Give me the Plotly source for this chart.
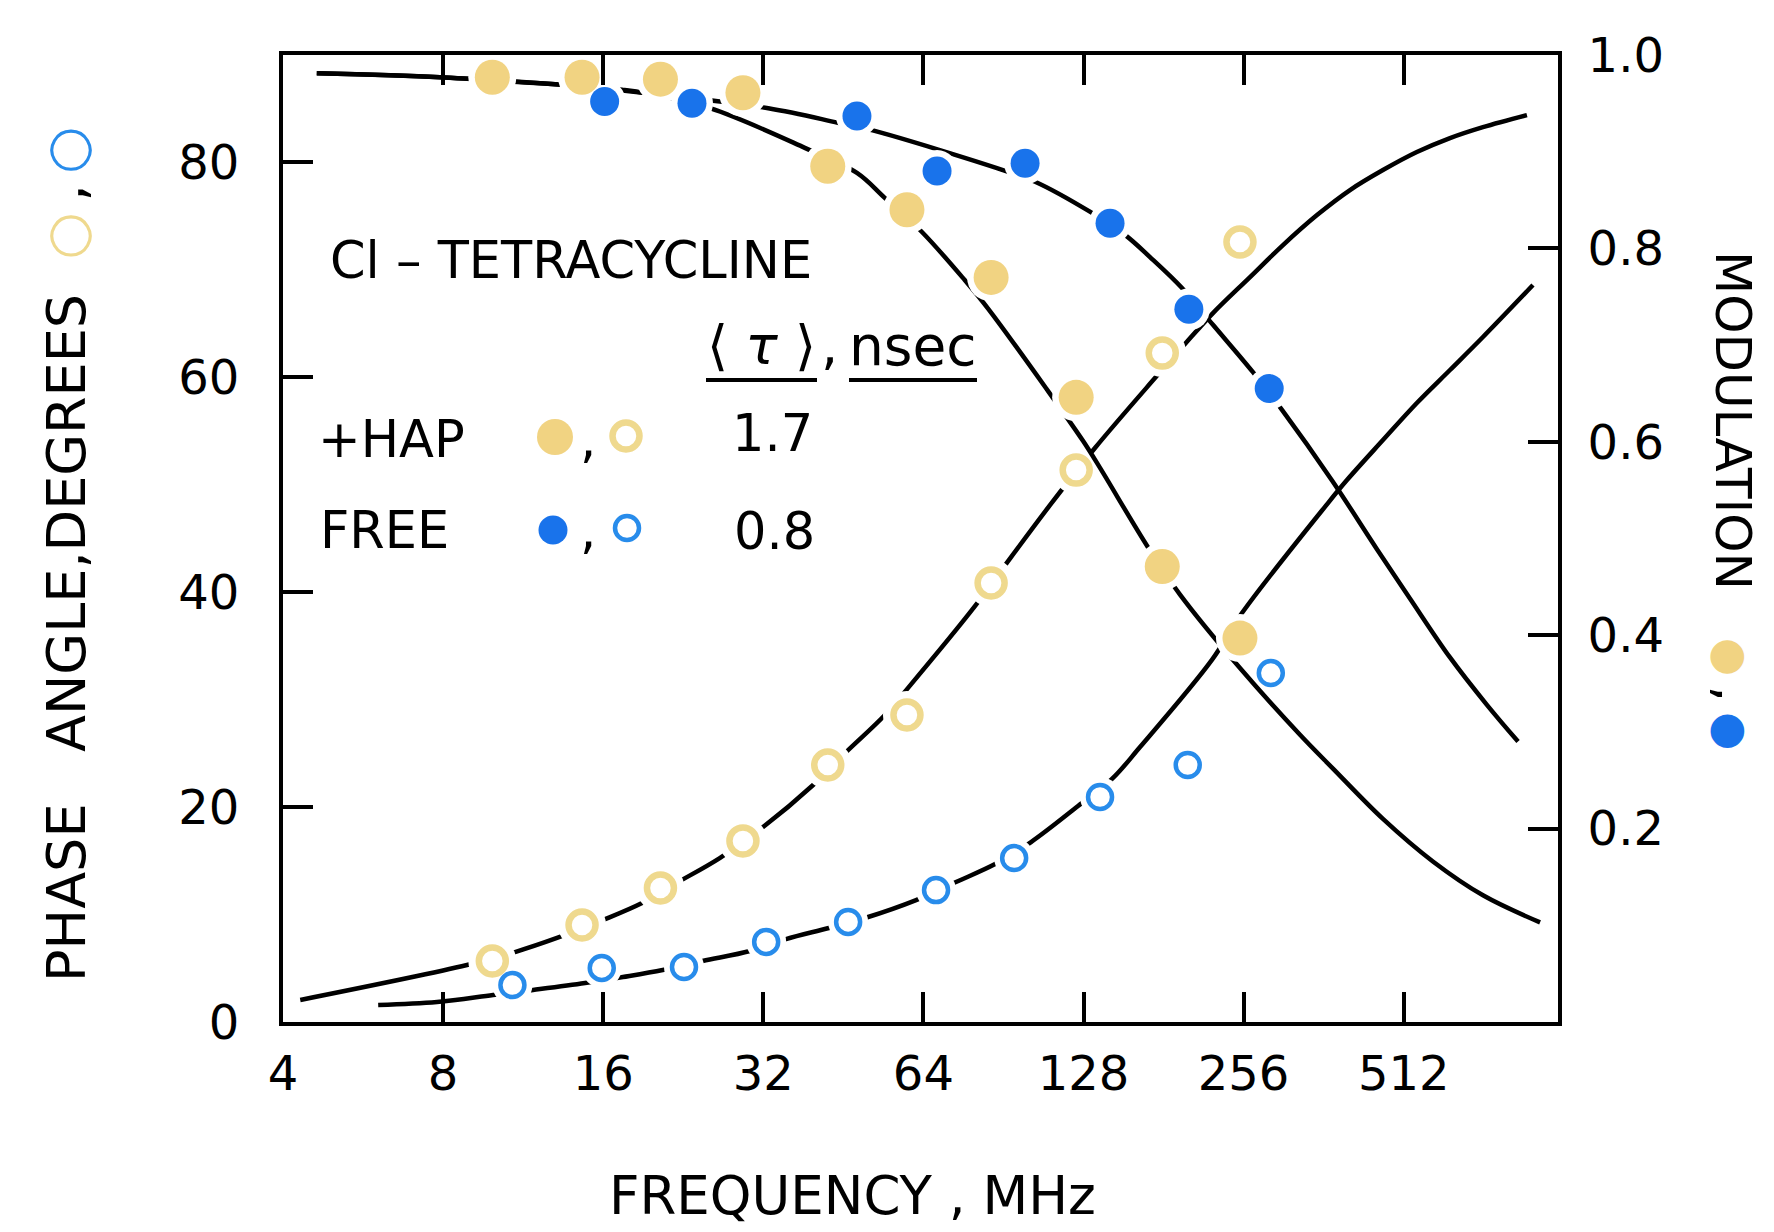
import math
import plotly.graph_objects as go

# ---------------- data ----------------
# + HAP  (<tau> = 1.7 nsec)
hap_freq = [9.9, 14.6, 20.5, 29.3, 42.3, 59.6, 85.8, 124, 180, 252]
hap_phase = [5.68, 9.03, 12.47, 16.85, 23.92, 28.57, 40.86, 51.37, 62.26, 72.59]
hap_mod = [0.977, 0.977, 0.975, 0.961, 0.885, 0.840, 0.770, 0.646, 0.471, 0.397]

# FREE  (<tau> = 0.8 nsec)
free_phase_freq = [10.8, 15.9, 22.7, 32.4, 46.2, 67.6, 94.8, 137.5, 201, 288]
free_phase = [3.44, 5.03, 5.12, 7.45, 9.31, 12.28, 15.26, 20.94, 23.92, 32.48]
free_mod_freq = [16.1, 23.5, 48.0, 67.9, 99.4, 143.6, 202, 286]
free_mod = [0.952, 0.950, 0.937, 0.880, 0.888, 0.826, 0.737, 0.655]

# drawn curves
hap_phase_curve_freq = [4.31, 8.87, 10.92, 13.1, 15.99, 18.93, 21.8, 26.5, 31.8, 39.7, 45.6, 54.0,
                        59.9, 80.0, 91.1, 110.7, 134.5, 174.4, 198.6, 224.2, 263.2, 303.6, 351.8,
                        405.8, 468, 542, 625.6, 721.6, 873]
hap_phase_curve = [2.05, 5.30, 6.51, 7.82, 9.49, 11.07, 12.84, 15.26, 18.05, 22.06, 25.03, 28.50,
                   31.10, 38.70, 42.50, 48.10, 53.42, 59.93, 63.10, 65.98, 69.33, 72.31, 75.10,
                   77.43, 79.29, 80.97, 82.27, 83.29, 84.41]

free_phase_curve_freq = [6.04, 7.79, 9.93, 11.81, 14.79, 17.43, 20.7, 24.6, 30.2, 35.3, 42.5, 49.7,
                         62.0, 73.7, 87.3, 102.0, 125.0, 144.8, 163.5, 223.2, 254.2, 368.9, 400.5,
                         468, 542, 625.6, 721.6, 896]
free_phase_curve = [1.58, 1.86, 2.51, 2.98, 3.63, 4.19, 4.84, 5.68, 6.61, 7.72, 8.75, 9.68,
                    11.35, 13.03, 14.70, 16.75, 20.10, 22.62, 25.59, 33.70, 38.06, 48.30, 50.44,
                    54.16, 57.61, 60.68, 63.75, 68.59]

hap_mod_curve_freq = [4.63, 7.89, 11.06, 13.56, 17.36, 19.01, 25.4, 38.3, 48.0, 54.2, 63.6, 76.6,
                      84.6, 109.3, 127.7, 137.5, 169.2, 194.4, 252, 326.8, 377, 468, 581, 721.6, 924]
hap_mod_curve = [0.981, 0.977, 0.972, 0.969, 0.964, 0.961, 0.945, 0.904, 0.878, 0.852, 0.817, 0.767,
                 0.738, 0.654, 0.601, 0.573, 0.491, 0.442, 0.366, 0.297, 0.262, 0.210, 0.166, 0.131, 0.103]

free_mod_curve_freq = [4.63, 7.89, 13.56, 19.01, 32.7, 44.2, 51.4, 90.3, 103.8, 131.6, 153.2, 170.7,
                       196.1, 224.2, 266.6, 302.3, 375.4, 456, 526, 625.6, 734, 840]
free_mod_curve = [0.981, 0.977, 0.969, 0.961, 0.945, 0.930, 0.922, 0.881, 0.869, 0.838, 0.814, 0.791,
                  0.759, 0.721, 0.672, 0.633, 0.560, 0.489, 0.438, 0.377, 0.328, 0.290]

x_ticks = [4, 8, 16, 32, 64, 128, 256, 512]
x_ticktext = ["4", "8", "16", "32", "64", "128", "256", "512"]
y_ticks = [0, 20, 40, 60, 80]
y2_ticks = [0.2, 0.4, 0.6, 0.8, 1.0]
y2_ticktext = ["0.2", "0.4", "0.6", "0.8", "1.0"]

# ---------------- style ----------------
FONT = "DejaVu Sans"
YEL = "#F1D382"
YEL_OPEN = "#EFD98E"
BLUE = "#1973EB"
BLUE_OPEN = "#288CEB"
W, H = 1774, 1232
L, R, T, B = 283, 1558, 55, 1022


def px(x):
    return (x - L) / (R - L)


def py(y):
    return (B - y) / (B - T)


fig = go.Figure()


def curve(xs, ys, yaxis):
    fig.add_trace(go.Scatter(x=xs, y=ys, yaxis=yaxis, mode="lines",
                             line=dict(color="black", width=4.5, shape="spline", smoothing=1.0),
                             hoverinfo="skip"))


def halo(xs, ys, yaxis, size):
    fig.add_trace(go.Scatter(x=xs, y=ys, yaxis=yaxis, mode="markers",
                             marker=dict(color="white", size=size, line=dict(width=0)),
                             hoverinfo="skip"))


# phase layer (left axis)
curve(hap_phase_curve_freq, hap_phase_curve, "y")
curve(free_phase_curve_freq, free_phase_curve, "y")
halo(hap_freq, hap_phase, "y", 48)
halo(free_phase_freq, free_phase, "y", 40)
fig.add_trace(go.Scatter(x=hap_freq, y=hap_phase, yaxis="y", mode="markers",
                         marker=dict(symbol="circle", size=27, color="white",
                                     line=dict(color=YEL_OPEN, width=6.5)), name="HAP phase"))
fig.add_trace(go.Scatter(x=free_phase_freq, y=free_phase, yaxis="y", mode="markers",
                         marker=dict(symbol="circle", size=24, color="white",
                                     line=dict(color=BLUE_OPEN, width=4.5)), name="FREE phase"))

# modulation layer (right axis)
curve(hap_mod_curve_freq, hap_mod_curve, "y2")
curve(free_mod_curve_freq, free_mod_curve, "y2")
halo(hap_freq, hap_mod, "y2", 48)
halo(free_mod_freq, free_mod, "y2", 42)
fig.add_trace(go.Scatter(x=hap_freq, y=hap_mod, yaxis="y2", mode="markers",
                         marker=dict(symbol="circle", size=35, color=YEL, line=dict(width=0)),
                         name="HAP modulation"))
fig.add_trace(go.Scatter(x=free_mod_freq, y=free_mod, yaxis="y2", mode="markers",
                         marker=dict(symbol="circle", size=29, color=BLUE, line=dict(width=0)),
                         name="FREE modulation"))

axis_common = dict(showgrid=False, zeroline=False, showline=True, linewidth=4, linecolor="black",
                   ticks="inside", ticklen=30, tickwidth=4, tickcolor="black",
                   tickfont=dict(family=FONT, size=48, color="black"))

fig.update_layout(
    width=W, height=H,
    margin=dict(l=L, r=W - R, t=T, b=H - B, pad=0),
    paper_bgcolor="white", plot_bgcolor="white",
    showlegend=False,
    xaxis=dict(type="log", range=[math.log10(4), math.log10(998.6)],
               tickvals=x_ticks, ticktext=x_ticktext, mirror="ticks",
               ticklabelstandoff=6, **axis_common),
    yaxis=dict(range=[0, 90], tickvals=y_ticks, ticklabelstandoff=30, **axis_common),
    yaxis2=dict(range=[0, 1], overlaying="y", side="right", tickvals=y2_ticks,
                ticktext=y2_ticktext, ticklabelstandoff=16, **axis_common),
)

ann = []


def text(x, y, s, size=51, xanchor="left", angle=0):
    ann.append(dict(x=px(x), y=py(y), xref="paper", yref="paper", text=s, showarrow=False,
                    xanchor=xanchor, yanchor="middle", textangle=angle,
                    font=dict(family=FONT, size=size, color="black")))


text(328, 261, "Cl – TETRACYCLINE")
text(761, 346, "⟨\u00a0<i>τ</i>\u00a0⟩", size=54, xanchor="center")
text(829, 346, ",", size=54, xanchor="center")
text(913, 346, "nsec", size=55, xanchor="center")
text(316, 439, "+HAP")
text(588, 439, ",", xanchor="center")
text(730, 434, "1.7")
text(318, 530, "FREE")
text(588, 530, ",", xanchor="center")
text(732, 531, "0.8")

text(852, 1195, "FREQUENCY , MHz", size=53, xanchor="center")
text(66, 555,
     "PHASE\u00a0\u00a0\u00a0ANGLE,DEGREES\u00a0\u00a0"
     f"<span style='color:{YEL_OPEN}'>○</span>\u2009,\u2009"
     f"<span style='color:{BLUE_OPEN}'>○</span>",
     size=54, xanchor="center", angle=-90)
text(1733, 500,
     "MODULATION\u00a0\u00a0\u00a0"
     f"<span style='color:{YEL};font-size:44px'>●</span>\u2009,\u2009"
     f"<span style='color:{BLUE};font-size:44px'>●</span>",
     size=50, xanchor="center", angle=90)

fig.update_layout(annotations=ann)

shapes = []
# underlines of the header
for x0, x1 in [(706, 817), (849, 977)]:
    shapes.append(dict(type="line", xref="paper", yref="paper", x0=px(x0), x1=px(x1),
                       y0=py(380), y1=py(380), line=dict(color="black", width=4)))


def dot(cx, cy, r, fill, lc=None, lw=0):
    shapes.append(dict(type="circle", xref="paper", yref="paper", xsizemode="pixel",
                       ysizemode="pixel", xanchor=px(cx), yanchor=py(cy),
                       x0=-r, x1=r, y0=-r, y1=r, fillcolor=fill,
                       line=dict(color=lc or fill, width=lw)))


dot(555, 437, 18, YEL)
dot(626, 436, 13.5, "white", YEL_OPEN, 6.5)
dot(553, 530, 14.5, BLUE)
dot(627, 528, 12, "white", BLUE_OPEN, 4.5)
fig.update_layout(shapes=shapes)

fig.write_html("out.html", include_plotlyjs=True, config={"displayModeBar": False},
               post_script="document.body.style.margin='0';document.body.style.overflow='hidden';")
